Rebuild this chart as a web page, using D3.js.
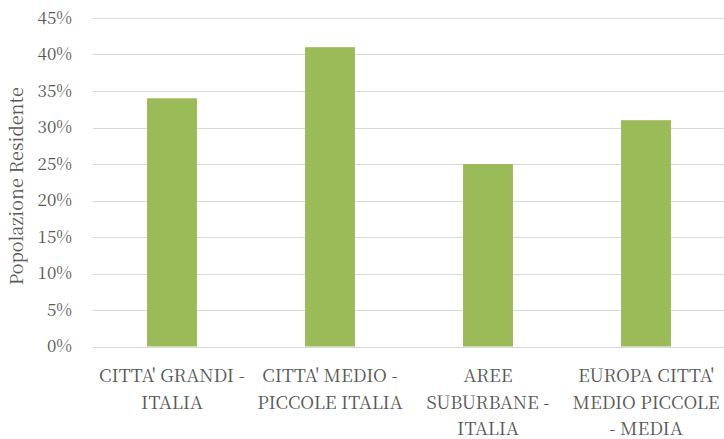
<!DOCTYPE html>
<html>
<head>
<meta charset="utf-8">
<script src="https://cdn.jsdelivr.net/npm/d3@7/dist/d3.min.js"></script>
<style>
  html, body { margin: 0; padding: 0; background: #fff; }
  svg { display: block; }
</style>
</head>
<body>
<svg id="chart" width="724" height="439"></svg>
<script>
// Share of resident population by type of area
const categories = [
  ["CITTA' GRANDI -", "ITALIA"],
  ["CITTA' MEDIO -", "PICCOLE ITALIA"],
  ["AREE", "SUBURBANE -", "ITALIA"],
  ["EUROPA CITTA'", "MEDIO PICCOLE", "- MEDIA"]
];
const values = [0.34, 0.41, 0.25, 0.31];
const yTicks = [0, 0.05, 0.10, 0.15, 0.20, 0.25, 0.30, 0.35, 0.40, 0.45];
const yTitle = "Popolazione Residente";

const serifFont = "'Noto Serif CJK SC'";
const textColor = "#595959";

const width = 724, height = 439;
const margin = { top: 18, right: -1, bottom: 92.5, left: 93 };
const svg = d3.select("#chart");

const x = d3.scaleBand()
  .domain(d3.range(categories.length))
  .range([margin.left, width - margin.right])
  .paddingInner(0.684)
  .paddingOuter(0.342);

const y = d3.scaleLinear()
  .domain([0, 0.45])
  .range([height - margin.bottom, margin.top]);

// horizontal gridlines
svg.append("g")
  .selectAll("line")
  .data(yTicks)
  .join("line")
  .attr("x1", margin.left)
  .attr("x2", width - margin.right)
  .attr("y1", d => Math.round(y(d)) + 0.5)
  .attr("y2", d => Math.round(y(d)) + 0.5)
  .attr("stroke", "#d9d9d9")
  .attr("stroke-width", 1);

// y axis labels
const yAxis = d3.axisLeft(y)
  .tickValues(yTicks)
  .tickFormat(d3.format(".0%"))
  .tickSize(0)
  .tickPadding(0);
svg.append("g")
  .attr("transform", `translate(${margin.left - 21},0)`)
  .call(yAxis)
  .attr("font-family", serifFont)
  .attr("font-size", 17)
  .call(g => g.select(".domain").remove())
  .call(g => g.selectAll("text").attr("fill", textColor));

// bars
svg.append("g")
  .selectAll("rect")
  .data(values)
  .join("rect")
  .attr("x", (d, i) => x(i))
  .attr("width", x.bandwidth())
  .attr("y", d => y(d))
  .attr("height", d => y(0) - y(d))
  .attr("fill", "#9bbb59");

// category labels, wrapped over several lines
const xLabels = svg.append("g")
  .attr("font-family", serifFont)
  .attr("font-size", 18)
  .attr("fill", textColor)
  .selectAll("text")
  .data(categories)
  .join("text")
  .attr("text-anchor", "middle")
  .attr("x", (d, i) => x(i) + x.bandwidth() / 2)
  .attr("y", 382);
xLabels.selectAll("tspan")
  .data(d => d)
  .join("tspan")
  .attr("x", function() { return this.parentNode.getAttribute("x"); })
  .attr("dy", (d, i) => i === 0 ? 0 : 26.5)
  .text(d => d);

// y axis title
svg.append("text")
  .attr("transform", `translate(23,${(margin.top + height - margin.bottom) / 2 + 4}) rotate(-90)`)
  .attr("text-anchor", "middle")
  .attr("font-family", serifFont)
  .attr("font-size", 18)
  .attr("fill", textColor)
  .text(yTitle);
</script>
</body>
</html>
